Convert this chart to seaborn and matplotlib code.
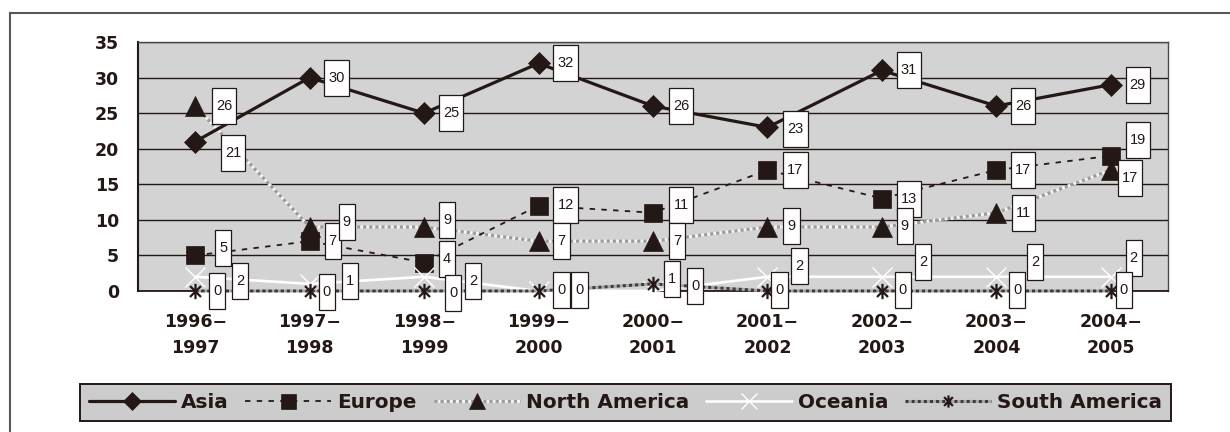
import matplotlib
matplotlib.use("Agg")
import matplotlib.pyplot as plt
import numpy as np
import pandas as pd
import seaborn as sns
from matplotlib.path import Path
from matplotlib.patches import Rectangle

# ---- data -------------------------------------------------------------
periods = ["1996−\n1997", "1997−\n1998", "1998−\n1999", "1999−\n2000", "2000−\n2001",
           "2001−\n2002", "2002−\n2003", "2003−\n2004", "2004−\n2005"]
asia = [21, 30, 25, 32, 26, 23, 31, 26, 29]
europe = [5, 7, 4, 12, 11, 17, 13, 17, 19]
north_america = [26, 9, 9, 7, 7, 9, 9, 11, 17]
oceania = [2, 1, 2, 0, 0, 2, 2, 2, 2]
south_america = [0, 0, 0, 0, 1, 0, 0, 0, 0]
y_ticks = [0, 5, 10, 15, 20, 25, 30, 35]

series_names = ["Asia", "Europe", "North America", "Oceania", "South America"]
series_values = [asia, europe, north_america, oceania, south_america]

# ---- layout / style ---------------------------------------------------
W, H, DPI = 1230, 432, 100
INK = "#231815"

# value-label nudges in pixels (right, down) from each point
label_nudge = {
    "Asia": [(38, 11), (27, 0), (27, 0), (27, 0), (28, 0), (28, 2), (27, 0), (27, 0), (27, 0)],
    "Europe": [(28, -7), (23, 0), (23, -4), (27, -1), (28, -8), (28, 0), (27, 0), (27, 0), (27, -16)],
    "North America": [(29, 0), (37, -5), (23, -7), (23, 0), (24, 0), (24, -1), (23, -1), (27, 0), (19, 8)],
    "Oceania": [(45, 4), (40, -3), (49, 4), (41, -1), (42, -5), (32, -11), (41, -15), (39, -15), (23, -19)],
    "South America": [(22, 0), (17, 1), (29, 2), (23, -1), (19, -5), (12, -1), (21, -1), (21, -1), (13, -1)],
}

asterisk = Path([(0, -1), (0, 1), (-0.72, -0.72), (0.72, 0.72), (-0.72, 0.72), (0.72, -0.72)],
                [Path.MOVETO, Path.LINETO, Path.MOVETO, Path.LINETO, Path.MOVETO, Path.LINETO])

styles = {
    "Asia": dict(color=INK, lw=2.3, linestyle="-", marker="D", markersize=11.5,
                 markerfacecolor=INK, markeredgecolor=INK, markeredgewidth=0.5, zorder=6),
    "Europe": dict(color=INK, lw=1.3, linestyle=(0, (3, 3.5)), marker="s", markersize=13.5,
                   markerfacecolor=INK, markeredgecolor=INK, markeredgewidth=0.5, zorder=4),
    "North America": dict(color="#9c9c9c", lw=2.2, linestyle=(0, (1, 1)), marker="^",
                          markersize=15, markerfacecolor=INK, markeredgecolor=INK,
                          markeredgewidth=0.5, zorder=3),
    "Oceania": dict(color="white", lw=1.9, linestyle="-", marker="x", markersize=15,
                    markeredgecolor="white", markeredgewidth=1.0, zorder=5),
    "South America": dict(color="#3e3a39", lw=2.2, linestyle=(0, (1, 1)), marker=asterisk,
                          markersize=11, markeredgecolor=INK, markeredgewidth=1.6, zorder=5.5),
}
gapcolors = {"North America": "#f4f4f4", "South America": "#a8a8a8"}

sns.set_style("white")
plt.rcParams["font.family"] = ["DejaVu Sans"]

fig = plt.figure(figsize=(W / DPI, H / DPI), dpi=DPI)
ax = fig.add_axes([138 / W, (H - 291) / H, (1168 - 138) / W, (291 - 42) / H])
ax.set_facecolor("#d3d3d3")

x = np.arange(len(periods))
lines = {}
for name, vals in zip(series_names, series_values):
    df = pd.DataFrame({"x": x, "y": vals})
    n_before = len(ax.lines)
    sns.lineplot(data=df, x="x", y="y", ax=ax, errorbar=None, sort=False,
                 clip_on=False, label=name, legend=False, **styles[name])
    ln = ax.lines[n_before]
    if name in gapcolors:
        ln.set_gapcolor(gapcolors[name])
    lines[name] = ln


def tall_box(x0, y0, width, height, mutation_size):
    """Rectangle with fixed height around the label text."""
    cy = y0 + height / 2
    padx, half_h = 4, 18
    xa, xb = x0 - padx, x0 + width + padx
    ya, yb = cy - half_h, cy + half_h
    return Path([(xa, ya), (xb, ya), (xb, yb), (xa, yb), (xa, ya)],
                [Path.MOVETO, Path.LINETO, Path.LINETO, Path.LINETO, Path.CLOSEPOLY])


label_font = ["Liberation Sans", "DejaVu Sans"]
for name, vals in zip(series_names, series_values):
    for i, v in enumerate(vals):
        dx, dy = label_nudge[name][i]
        ax.annotate(str(v), xy=(x[i], v), xytext=(dx, -dy), textcoords="offset pixels",
                    ha="center", va="center", fontsize=10.5, family=label_font, color=INK,
                    bbox=dict(boxstyle=tall_box, fc="white", ec=INK, lw=0.9),
                    annotation_clip=False, zorder=10)

# axes
ax.set_xlim(-0.5, len(periods) - 0.5)
ax.set_ylim(0, 35)
ax.set_yticks(y_ticks)
ax.set_yticklabels([str(t) for t in y_ticks])
ax.set_xticks(x)
ax.set_xticklabels(periods)
ax.set_xticks(np.arange(len(periods) + 1) - 0.5, minor=True)
ax.tick_params(axis="y", length=0, pad=13.5, labelsize=12.5, labelcolor=INK)
ax.tick_params(axis="x", which="major", length=0, pad=16, labelsize=12.5, labelcolor=INK)
ax.tick_params(axis="x", which="minor", direction="in", length=3, width=0.8, color=INK)
for lab in ax.get_xticklabels() + ax.get_yticklabels():
    lab.set_fontweight("bold")
for lab in ax.get_xticklabels():
    lab.set_linespacing(1.55)

ax.yaxis.grid(True, color=INK, lw=1.0)
ax.xaxis.grid(False)
ax.set_axisbelow(True)
ax.set_xlabel("")
ax.set_ylabel("")

ax.spines["left"].set_color(INK)
ax.spines["left"].set_linewidth(1.5)
for s in ("top", "right"):
    ax.spines[s].set_color("#4a4a4a")
    ax.spines[s].set_linewidth(1.0)
ax.spines["bottom"].set_color(INK)
ax.spines["bottom"].set_linewidth(1.3)
ax.spines["bottom"].set_linestyle((0, (2, 1)))

# legend
handles = [lines[n] for n in series_names]
leg = fig.legend(handles, series_names, loc="center",
                 bbox_to_anchor=(625.5 / W, 1 - 402 / H), bbox_transform=fig.transFigure,
                 ncol=5, frameon=True, fancybox=False, edgecolor=INK, facecolor="#cccccc",
                 framealpha=1, handlelength=4.3, handletextpad=0.3, columnspacing=0.85,
                 borderpad=0.45, markerscale=0.8,
                 prop=dict(family="DejaVu Sans", weight="bold", size=14.4))
leg.get_frame().set_linewidth(1.4)
for t in leg.get_texts():
    t.set_color(INK)

# outer chart frame
fig.patches.append(Rectangle((10 / W, -0.2), 2.0, (H - 13) / H + 0.2, transform=fig.transFigure,
                             fill=False, ec="#595757", lw=1.5, clip_on=False))

fig.savefig("out.png", dpi=DPI)
